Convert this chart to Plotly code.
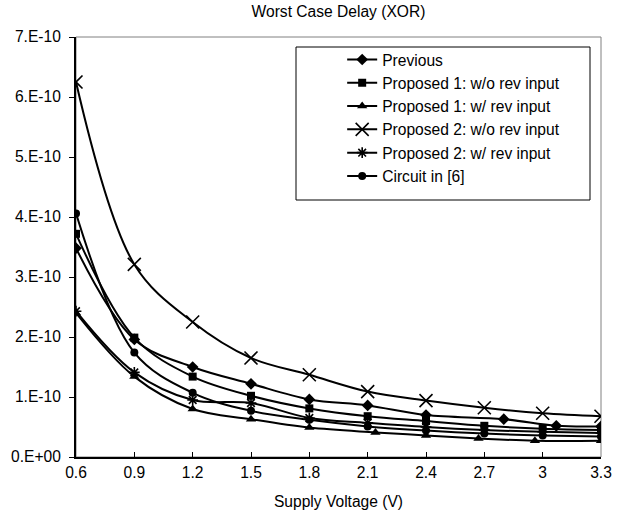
import plotly.graph_objects as go

# ---- data (delay in seconds) ----
volts = [0.6, 0.9, 1.2, 1.5, 1.8, 2.1, 2.4, 2.7, 3.0, 3.3]

previous_x = [0.6, 0.9, 1.2, 1.5, 1.8, 2.1, 2.4, 2.8, 3.07, 3.3]
previous = [3.48e-10, 1.96e-10, 1.50e-10, 1.22e-10, 0.96e-10, 0.86e-10, 0.70e-10, 0.63e-10, 0.52e-10, 0.51e-10]

p1_wo = [3.72e-10, 1.99e-10, 1.34e-10, 1.02e-10, 0.81e-10, 0.68e-10, 0.60e-10, 0.52e-10, 0.47e-10, 0.45e-10]

p1_w_x = [0.6, 0.9, 1.2, 1.5, 1.8, 2.14, 2.4, 2.67, 2.96, 3.3]
p1_w = [2.40e-10, 1.34e-10, 0.80e-10, 0.63e-10, 0.49e-10, 0.41e-10, 0.36e-10, 0.31e-10, 0.27e-10, 0.27e-10]

p2_wo = [6.25e-10, 3.21e-10, 2.25e-10, 1.65e-10, 1.37e-10, 1.09e-10, 0.94e-10, 0.82e-10, 0.73e-10, 0.68e-10]

p2_w = [2.43e-10, 1.41e-10, 0.95e-10, 0.90e-10, 0.65e-10, 0.57e-10, 0.50e-10, 0.45e-10, 0.42e-10, 0.40e-10]

circuit6 = [4.06e-10, 1.74e-10, 1.07e-10, 0.77e-10, 0.62e-10, 0.51e-10, 0.44e-10, 0.39e-10, 0.36e-10, 0.34e-10]

y_tickvals = [0, 1e-10, 2e-10, 3e-10, 4e-10, 5e-10, 6e-10, 7e-10]
y_ticktext = ["0.E+00", "1.E-10", "2.E-10", "3.E-10", "4.E-10", "5.E-10", "6.E-10", "7.E-10"]
x_tickvals = [0.6, 0.9, 1.2, 1.5, 1.8, 2.1, 2.4, 2.7, 3.0, 3.3]
x_ticktext = ["0.6", "0.9", "1.2", "1.5", "1.8", "2.1", "2.4", "2.7", "3", "3.3"]

FONT = "Liberation Sans, Arial, sans-serif"
FS = 15.6

series = [
    ("Previous", previous_x, previous, "diamond", 9, 0),
    ("Proposed 1: w/o rev input", volts, p1_wo, "square", 8, 0),
    ("Proposed 1: w/ rev input", p1_w_x, p1_w, "triangle-up", 9, 0),
    ("Proposed 2: w/o rev input", volts, p2_wo, "x-thin-open", 13, 1.6),
    ("Proposed 2: w/ rev input", volts, p2_w, "asterisk-open", 9, 1.6),
    ("Circuit in [6]", volts, circuit6, "circle", 8, 0),
]

fig = go.Figure()
for i, (name, xs, ys, sym, size, lw) in enumerate(series):
    fig.add_trace(go.Scatter(
        x=xs, y=ys, name=name, mode="lines+markers",
        legendgroup=f"g{i}",
        line=dict(color="black", width=2, shape="spline", smoothing=1.0),
        marker=dict(symbol=sym, size=size, color="black",
                    line=dict(color="black", width=lw)),
    ))

fig.update_layout(
    width=624, height=514,
    margin=dict(l=76, r=23, t=37, b=57),
    paper_bgcolor="white", plot_bgcolor="white",
    font=dict(family=FONT, size=FS, color="black"),
    title=dict(text="Worst Case Delay (XOR)", x=0.5, xref="paper",
               y=0.977, yref="container", yanchor="middle",
               font=dict(family=FONT, size=FS, color="black")),
    showlegend=True,
    legend=dict(x=0.507, y=0.986, xanchor="left", yanchor="top",
                bgcolor="rgba(0,0,0,0)", borderwidth=0,
                tracegroupgap=0, itemwidth=30,
                font=dict(family=FONT, size=FS, color="black")),
    shapes=[
        dict(type="rect", xref="paper", yref="paper", x0=0, x1=1, y0=0, y1=1,
             line=dict(color="#808080", width=1), layer="below"),
        dict(type="rect", xref="paper", yref="paper",
             x0=(296 - 76) / 525, x1=(590 - 76) / 525,
             y0=(457 - 200) / 420, y1=(457 - 47) / 420,
             line=dict(color="black", width=1), fillcolor="white", layer="below"),
    ],
)
fig.update_xaxes(
    range=[0.6, 3.3], tickvals=x_tickvals, ticktext=x_ticktext,
    showgrid=False, zeroline=False, showline=True, linecolor="black", linewidth=2,
    ticks="inside", ticklen=5, tickwidth=1, tickcolor="black",
    title=dict(text="Supply Voltage (V)", standoff=16, font=dict(size=FS)),
    tickfont=dict(size=FS), automargin=False,
)
fig.update_yaxes(
    range=[0, 7e-10], tickvals=y_tickvals, ticktext=y_ticktext,
    showgrid=False, zeroline=False, showline=True, linecolor="black", linewidth=2,
    ticks="outside", ticklen=5, tickwidth=1, tickcolor="black",
    tickfont=dict(size=FS), ticklabelstandoff=5, automargin=False,
)

fig.write_html("out.html", config={"displayModeBar": False},
               post_script="document.body.style.margin='0';document.body.style.padding='0';")
